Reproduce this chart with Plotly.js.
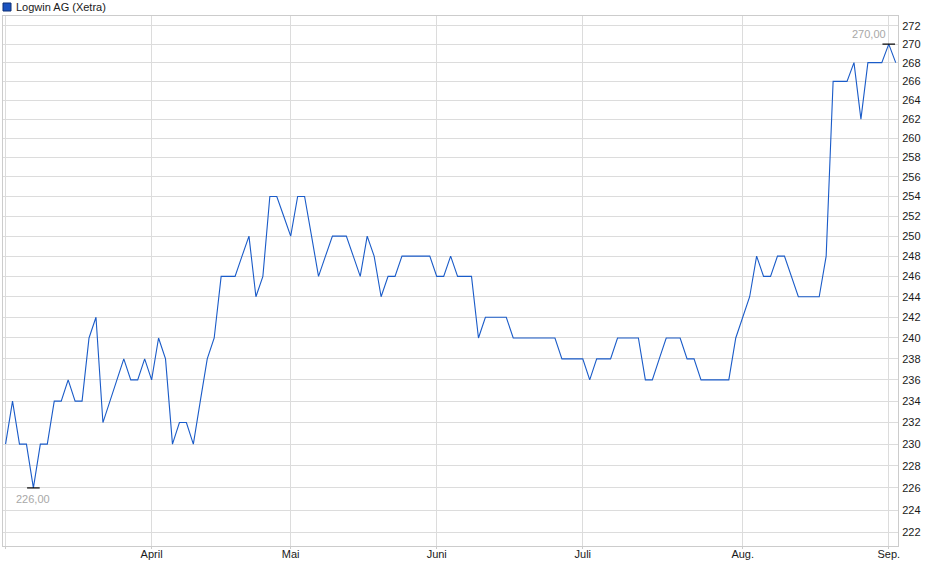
<!DOCTYPE html>
<html>
<head>
<meta charset="utf-8">
<script src="https://cdn.plot.ly/plotly-3.0.1.min.js"></script>
<style>
  html, body { margin: 0; padding: 0; background: #fff; }
  #chart { width: 940px; height: 579px; }
</style>
</head>
<body>
<div id="chart"></div>
<script>
// Daily closing prices, one entry per trading day (Xetra)
var closes = [
    230, 234, 230, 230, 226, 230, 230, 234, 234, 236,
    234, 234, 240, 242, 232, 234, 236, 238, 236, 236,
    238, 236, 240, 238, 230, 232, 232, 230, 234, 238,
    240, 246, 246, 246, 248, 250, 244, 246, 254, 254,
    252, 250, 254, 254, 250, 246, 248, 250, 250, 250,
    248, 246, 250, 248, 244, 246, 246, 248, 248, 248,
    248, 248, 246, 246, 248, 246, 246, 246, 240, 242,
    242, 242, 242, 240, 240, 240, 240, 240, 240, 240,
    238, 238, 238, 238, 236, 238, 238, 238, 240, 240,
    240, 240, 236, 236, 238, 240, 240, 240, 238, 238,
    236, 236, 236, 236, 236, 240, 242, 244, 248, 246,
    246, 248, 248, 246, 244, 244, 244, 244, 248, 266,
    266, 266, 268, 262, 268, 268, 268, 270, 268
];

// Trading-day index where each month starts
var monthTicks = [0, 21, 41, 62, 83, 106, 127];
var monthLabels = ['', 'April', 'Mai', 'Juni', 'Juli', 'Aug.', 'Sep.'];

var priceTicks = [222, 224, 226, 228, 230, 232, 234, 236, 238, 240, 242, 244, 246,
                  248, 250, 252, 254, 256, 258, 260, 262, 264, 266, 268, 270, 272];

var seriesName = 'Logwin AG (Xetra)';

function formatPrice(v) {
    return v.toFixed(2).replace('.', ',');
}

var xData = closes.map(function(_, i) { return i; });

// find high / low of the period
var maxVal = Math.max.apply(null, closes);
var minVal = Math.min.apply(null, closes);
var maxIdx = closes.lastIndexOf(maxVal);
var minIdx = closes.indexOf(minVal);

var priceTrace = {
    x: xData,
    y: closes,
    mode: 'lines',
    line: { color: '#1a5bc8', width: 1.1 },
    hoverinfo: 'skip'
};

var extremeTrace = {
    x: [minIdx, maxIdx],
    y: [minVal, maxVal],
    mode: 'markers',
    marker: {
        symbol: 'line-ew',
        size: 9,
        line: { color: '#000', width: 1.2 }
    },
    hoverinfo: 'skip'
};

var W = 940, H = 579;
var M = { l: 3, r: 42, t: 16, b: 33 };
var pw = W - M.l - M.r, ph = H - M.t - M.b;
// pixel -> paper helpers for the header legend
function px(x) { return (x - M.l) / pw; }
function py(y) { return (H - M.b - y) / ph; }

var layout = {
    width: W,
    height: H,
    margin: M,
    paper_bgcolor: '#fff',
    plot_bgcolor: '#fff',
    showlegend: false,
    font: { family: 'Liberation Sans, Arial, sans-serif', size: 11, color: '#1a1a1a' },
    xaxis: {
        range: [-0.37, 128.33],
        tickvals: monthTicks,
        ticktext: monthLabels,
        showgrid: true,
        gridcolor: '#dcdcdc',
        gridwidth: 1,
        zeroline: false,
        showline: true,
        linecolor: '#cccccc',
        mirror: true,
        ticks: 'outside',
        ticklen: 2,
        tickcolor: '#cccccc',
        ticklabelstandoff: -4,
        tickfont: { size: 11, color: '#1a1a1a' },
        fixedrange: true
    },
    yaxis: {
        type: 'log',
        side: 'right',
        range: [Math.log10(220.8), Math.log10(273.06)],
        tickvals: priceTicks,
        ticktext: priceTicks.map(String),
        showgrid: true,
        gridcolor: '#dcdcdc',
        gridwidth: 1,
        zeroline: false,
        showline: true,
        linecolor: '#cccccc',
        mirror: true,
        ticks: '',
        ticklabelstandoff: 1,
        tickfont: { size: 11, color: '#1a1a1a' },
        fixedrange: true
    },
    shapes: [
        {
            type: 'rect', xref: 'paper', yref: 'paper',
            x0: px(3), x1: px(11), y0: py(11), y1: py(3),
            fillcolor: '#1a52c0',
            line: { color: '#0d2f75', width: 1 }
        }
    ],
    annotations: [
        {
            xref: 'paper', yref: 'paper',
            x: px(14), y: py(7),
            xanchor: 'left', yanchor: 'middle',
            text: seriesName,
            showarrow: false,
            font: { size: 11, color: '#1a1a1a' }
        },
        {
            x: maxIdx, y: Math.log10(maxVal),
            xanchor: 'right', yanchor: 'bottom',
            xshift: -1, yshift: 2,
            text: formatPrice(maxVal),
            showarrow: false,
            font: { size: 11, color: '#a8a8a8' }
        },
        {
            x: minIdx, y: Math.log10(minVal),
            xanchor: 'center', yanchor: 'top',
            yshift: -3,
            text: formatPrice(minVal),
            showarrow: false,
            font: { size: 11, color: '#a8a8a8' }
        }
    ]
};

Plotly.newPlot('chart', [priceTrace, extremeTrace], layout, { displayModeBar: false, staticPlot: true });
</script>
</body>
</html>
